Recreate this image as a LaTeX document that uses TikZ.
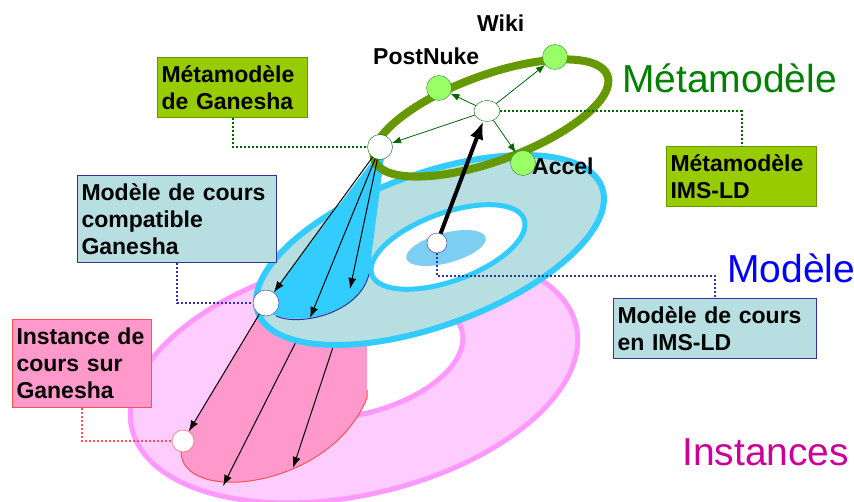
\documentclass[tikz,border=0pt]{standalone}
\usepackage{fontspec}
\setmainfont{Liberation Sans}
\definecolor{ringpink}{HTML}{FF99FF}
\definecolor{lightpink}{HTML}{FFCCFF}
\definecolor{deeppink}{HTML}{FF99CC}
\definecolor{instred}{HTML}{FF5050}
\definecolor{paleteal}{HTML}{B7DFE2}
\definecolor{skycyan}{HTML}{33CCFF}
\definecolor{navyline}{HTML}{333399}
\definecolor{olivering}{HTML}{669900}
\definecolor{limebox}{HTML}{99CC00}
\definecolor{darkgreen}{HTML}{006600}
\definecolor{leafgreen}{HTML}{99FF66}
\definecolor{titlegreen}{HTML}{008000}
\definecolor{titlemagenta}{HTML}{CC0099}
\definecolor{softblue}{HTML}{7CCFF2}
\usepackage{tikz}
\usetikzlibrary{arrows.meta,shapes.geometric}

\begin{document}
\begin{tikzpicture}[x=1pt, y=-1pt,
  labelbox/.style={draw, anchor=north west, align=left, inner xsep=4pt,
    inner ysep=0pt, line width=1pt, font=\bfseries\fontsize{23}{27}\selectfont},
  hollow/.style={circle, draw, fill=white, inner sep=0pt, minimum size=#1},
  tool/.style={circle, draw=darkgreen!80, fill=leafgreen, inner sep=0pt,
    minimum size=25pt},
  toolname/.style={anchor=base west, inner sep=0pt,
    font=\bfseries\fontsize{23}{27}\selectfont},
  level/.style={anchor=base west, inner sep=0pt, font=\fontsize{39}{44}\selectfont},
  link/.style={line width=2pt, dash pattern=on 2pt off 2pt},
  gen/.style={darkgreen, line width=0.8pt, -{Latex[length=9pt,width=7pt]}},
  proj/.style={black, line width=1pt, -{Latex[length=11pt,width=8pt]}},
]
  \useasboundingbox (0,0) rectangle (854,502);
  \coordinate (pgmod) at (266,303);
  \coordinate (pinst) at (183,441);
  \coordinate (i2s) at (306,322);
  \coordinate (i2) at (223,486);
  \coordinate (i3s) at (337,335);
  \coordinate (i3) at (293,468);
  \coordinate (c2) at (310,318);
  \coordinate (c3) at (350,289);

  % instances
  \draw[ringpink, fill=lightpink, line width=5pt, rotate around={13:(354,377)}]
    (354,377) ellipse [x radius=228, y radius=118];
  \draw[ringpink, fill=white, line width=5pt, rotate around={13:(352,357)}]
    (352,357) ellipse [x radius=113, y radius=58];
  \fill[deeppink] (pgmod) -- (pinst) -- (181,451)
    .. controls (180,505) and (330,490) .. (367,398) -- (367,330) -- cycle;
  \draw[instred, line width=1pt] (181,451)
    .. controls (180,505) and (330,490) .. (367,398) -- (367,390);
  \draw[proj] (i2s) -- (i2);
  \draw[proj] (i3s) -- (i3);

  % modele
  \draw[skycyan, fill=paleteal, line width=6pt, rotate around={20:(430,250)}]
    (430,250) ellipse [x radius=183, y radius=76];
  \draw[skycyan, fill=white, line width=5pt, rotate around={20:(448,247)}]
    (448,247) ellipse [x radius=81, y radius=34];
  \fill[softblue, rotate around={15:(446,248)}]
    (446,248) ellipse [x radius=41, y radius=15];
  \fill[skycyan] (375,157) -- (pgmod) -- (272,314)
    .. controls (300,327) and (360,313) .. (369,274) -- (384,158) -- cycle;
  \draw[navyline, line width=1pt] (276,316)
    .. controls (300,327) and (360,313) .. (369,274);

  % metamodele
  \draw[olivering, line width=8pt, rotate around={20:(491,118)}]
    (491,118) ellipse [x radius=124, y radius=43];

  \node[hollow=25pt, draw=darkgreen] (gmeta) at (380,147) {};
  \node[hollow=26pt, ellipse, minimum height=21pt, draw=darkgreen] (imsmeta) at (487,111) {};
  \node[tool] (postnuke) at (439,88) {};
  \node[tool] (wiki) at (555,57) {};
  \node[tool] (accel) at (523,163) {};
  \node[hollow=20pt, draw=navyline] (imsmod) at (437,243) {};
  \node[hollow=26pt, draw=navyline] (gmod) at (pgmod) {};
  \node[hollow=22pt, draw=instred] (inst) at (pinst) {};

  \draw[gen] (imsmeta) -- (gmeta);
  \draw[gen] (imsmeta) -- (postnuke);
  \draw[gen] (imsmeta) -- (wiki);
  \draw[gen] (imsmeta) -- (accel);
  \draw[line width=4pt, -{Latex[length=18pt,width=14pt]}] (imsmod) -- (imsmeta);
  \draw[proj] (gmeta) -- (gmod);
  \draw[proj] (gmeta) -- (c2);
  \draw[proj] (gmeta) -- (c3);
  \draw[proj] (gmod) -- (inst);

  \node[toolname] (postnukename) at (373,65) {PostNuke};
  \node[toolname] (wikiname) at (477,32) {Wiki};
  \node[toolname] (accelname) at (532,175) {Accel};

  \node[labelbox, fill=limebox, draw=olivering, text width=142pt, minimum height=60pt]
    (gmetabox) at (157,57) {Métamodèle\\de Ganesha};
  \node[labelbox, fill=limebox, draw=olivering, text width=142pt, minimum height=60pt]
    (imsmetabox) at (666,146) {Métamodèle\\IMS-LD};
  \node[labelbox, fill=paleteal, draw=navyline, text width=191pt, minimum height=87pt]
    (gmodbox) at (77,175) {Modèle de cours\\compatible\\Ganesha};
  \node[labelbox, fill=paleteal, draw=navyline, text width=195pt, minimum height=60pt]
    (imsmodbox) at (613,298) {Modèle de cours\\en IMS-LD};
  \node[labelbox, fill=deeppink, draw=instred, text width=131pt, minimum height=88pt]
    (instbox) at (12,319) {Instance de\\cours sur\\Ganesha};

  \draw[link, darkgreen] (gmetabox.south) |- (gmeta);
  \draw[link, darkgreen] (imsmeta) -| (imsmetabox.north);
  \draw[link, navyline] (gmodbox.south) |- (gmod);
  \draw[link, navyline] (imsmod.south) -- ++(0,23) -| (imsmodbox.north);
  \draw[link, instred] (instbox.south) |- (inst);

  \node[level, text=titlegreen] (metalevel) at (622,93) {Métamodèle};
  \node[level, text=blue] (modlevel) at (727,283) {Modèle};
  \node[level, text=titlemagenta] (instlevel) at (682,465) {Instances};
\end{tikzpicture}
\end{document}
